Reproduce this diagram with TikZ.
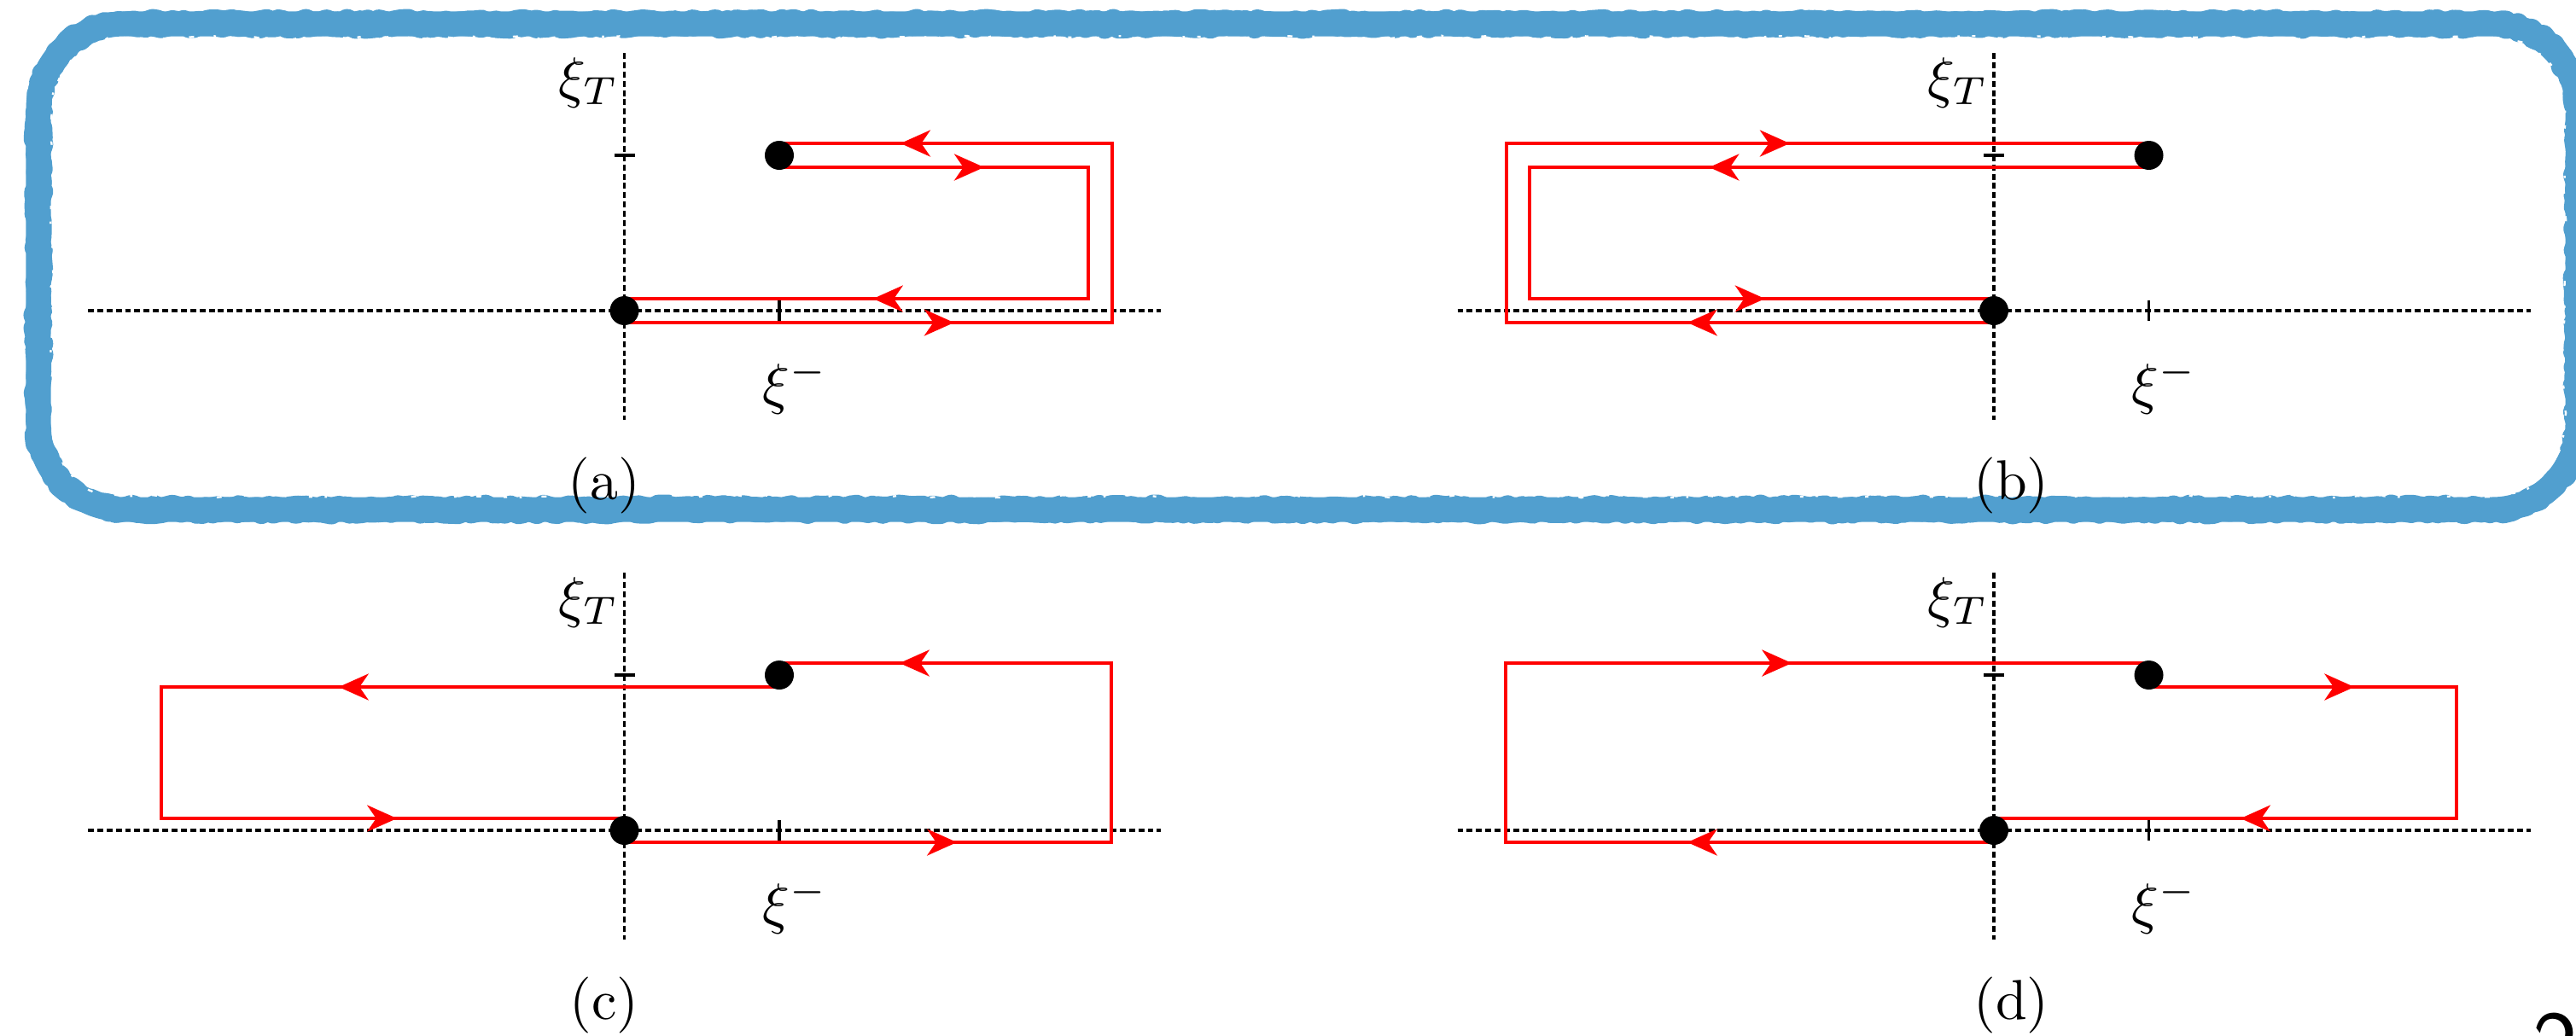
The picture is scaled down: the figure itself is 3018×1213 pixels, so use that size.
\documentclass[tikz,border=0pt]{standalone}
\usetikzlibrary{arrows.meta,decorations.markings,decorations.pathmorphing}
\definecolor{frameblue}{RGB}{81,159,207}
\begin{document}
\begin{tikzpicture}[x=0.1515pt,y=-0.1515pt,
  axisline/.style={line width=0.5pt,dash pattern=on 1.05pt off 0.6pt},
  tickline/.style={line width=0.55pt},
  redline/.style={red,line width=0.62pt,line join=miter},
  arrowat/.style={postaction={decorate},decoration={markings,
     mark=at position #1 with {\arrow{Stealth[length=5.3pt,width=4.7pt,inset=1.6pt]}}}},
  dot/.style={circle,fill=black,inner sep=0pt,minimum size=5.15pt},
  lab/.style={inner sep=0pt,font=\fontsize{10}{12}\selectfont},
  frame/.style={frameblue,line width=4.4pt,line join=round}]
\useasboundingbox (0,0) rectangle (3018,1213);

% hand-drawn blue frame
\def\framepath{(145,28) -- (2920,28) arc[start angle=270,end angle=360,radius=100]
  -- (3020,497) arc[start angle=0,end angle=90,radius=100]
  -- (145,597) arc[start angle=90,end angle=180,radius=100]
  -- (45,128) arc[start angle=180,end angle=270,radius=100] -- cycle}
\draw[frame] \framepath;
\pgfmathsetseed{7}
\draw[frameblue,line width=4.3pt,line join=round,decorate,
  decoration={random steps,segment length=1.2pt,amplitude=0.5pt}] \framepath;
\pgfmathsetseed{3}
\draw[frameblue,line width=3.9pt,line join=round,decorate,
  decoration={random steps,segment length=0.9pt,amplitude=0.6pt}] \framepath;
\pgfmathsetseed{11}
\draw[white,line width=0.35pt,line join=round,dash pattern=on 0.9pt off 3.5pt on 0.4pt off 2.2pt on 0.6pt off 4pt,decorate,
  decoration={random steps,segment length=2pt,amplitude=0.35pt}]
  (145,44) -- (2920,44) arc[start angle=270,end angle=360,radius=84]
  -- (3004,497) arc[start angle=0,end angle=90,radius=84]
  -- (145,581) arc[start angle=90,end angle=180,radius=84]
  -- (61,128) arc[start angle=180,end angle=270,radius=84] -- cycle;

\newcommand\panelaxes[3]{%
  \coordinate (#1O) at (0,0);
  \coordinate (#1D) at (181.5,-182);
  \coordinate (#1hl) at (-628.5,0);
  \coordinate (#1hr) at (628.5,0);
  \coordinate (#1vt) at (0,-302);
  \coordinate (#1vb) at (0,128);
  \draw[axisline] (#1hl) -- (#1hr);
  \draw[axisline] (#1vt) -- (#1vb);
  \draw[tickline] (-12,-182) -- (12,-182);
  \draw[tickline] (181.5,-12) -- (181.5,12);
  \node[lab,anchor=base west] (#1xiT) at (-78.5,-251) {$\xi_T$};
  \node[lab,anchor=base west] (#1xim) at (160.5,108) {$\xi^-$};
  \node[lab,anchor=base] (#1cap) at (#3,221) {(#2)};
}
\newcommand\paneldots[1]{%
  \node[dot] (#1dO) at (#1O) {};
  \node[dot] (#1dD) at (#1D) {};
}

% ---------- (a)
\begin{scope}[shift={(731.5,364)}]
  \panelaxes{a}{a}{-23.5}
  \coordinate (a1) at (0,14);      \coordinate (a2) at (571.5,14);
  \coordinate (a3) at (571.5,-196); \coordinate (a4) at (181.5,-196);
  \coordinate (a5) at (181.5,-168); \coordinate (a6) at (543.5,-168);
  \coordinate (a7) at (543.5,-14);  \coordinate (a8) at (0,-14);
  \draw[redline] (a1) -- (a2) -- (a3) -- (a4);
  \draw[redline] (a5) -- (a6) -- (a7) -- (a8);
  \draw[redline,arrowat=0.676] (a1) -- (a2);
  \draw[redline,arrowat=0.636] (a3) -- (a4);
  \draw[redline,arrowat=0.663] (a5) -- (a6);
  \draw[redline,arrowat=0.464] (a7) -- (a8);
  \paneldots{a}
\end{scope}

% ---------- (b)
\begin{scope}[shift={(2336,364)}]
  \panelaxes{b}{b}{20.5}
  \coordinate (b1) at (0,14);      \coordinate (b2) at (-571,14);
  \coordinate (b3) at (-571,-196); \coordinate (b4) at (181.5,-196);
  \coordinate (b5) at (181.5,-168); \coordinate (b6) at (-544,-168);
  \coordinate (b7) at (-544,-14);  \coordinate (b8) at (0,-14);
  \draw[redline] (b1) -- (b2) -- (b3) -- (b4);
  \draw[redline] (b5) -- (b6) -- (b7) -- (b8);
  \draw[redline,arrowat=0.629] (b1) -- (b2);
  \draw[redline,arrowat=0.441] (b3) -- (b4);
  \draw[redline,arrowat=0.710] (b5) -- (b6);
  \draw[redline,arrowat=0.507] (b7) -- (b8);
  \paneldots{b}
\end{scope}

% ---------- (c)
\begin{scope}[shift={(731.5,973)}]
  \panelaxes{c}{c}{-23.5}
  \coordinate (c1) at (181.5,-168); \coordinate (c2) at (-542.5,-168);
  \coordinate (c3) at (-542.5,-14); \coordinate (c4) at (0,-14);
  \coordinate (c5) at (0,14);       \coordinate (c6) at (570.5,14);
  \coordinate (c7) at (570.5,-196); \coordinate (c8) at (181.5,-196);
  \draw[redline] (c1) -- (c2) -- (c3) -- (c4);
  \draw[redline] (c5) -- (c6) -- (c7) -- (c8);
  \draw[redline,arrowat=0.713] (c1) -- (c2);
  \draw[redline,arrowat=0.509] (c3) -- (c4);
  \draw[redline,arrowat=0.683] (c5) -- (c6);
  \draw[redline,arrowat=0.638] (c7) -- (c8);
  \paneldots{c}
\end{scope}

% ---------- (d)
\begin{scope}[shift={(2336,973)}]
  \panelaxes{d}{d}{20.5}
  \coordinate (d1) at (0,14);       \coordinate (d2) at (-572,14);
  \coordinate (d3) at (-572,-196);  \coordinate (d4) at (181.5,-196);
  \coordinate (d5) at (181.5,-168); \coordinate (d6) at (542,-168);
  \coordinate (d7) at (542,-14);    \coordinate (d8) at (0,-14);
  \draw[redline] (d1) -- (d2) -- (d3) -- (d4);
  \draw[redline] (d5) -- (d6) -- (d7) -- (d8);
  \draw[redline,arrowat=0.628] (d1) -- (d2);
  \draw[redline,arrowat=0.445] (d3) -- (d4);
  \draw[redline,arrowat=0.668] (d5) -- (d6);
  \draw[redline,arrowat=0.467] (d7) -- (d8);
  \paneldots{d}
\end{scope}

% clipped page number
\node[anchor=north west,inner sep=0pt,font=\sffamily\fontsize{17}{20}\selectfont] (pagenum) at (2966,1186) {2};
\end{tikzpicture}
\end{document}
